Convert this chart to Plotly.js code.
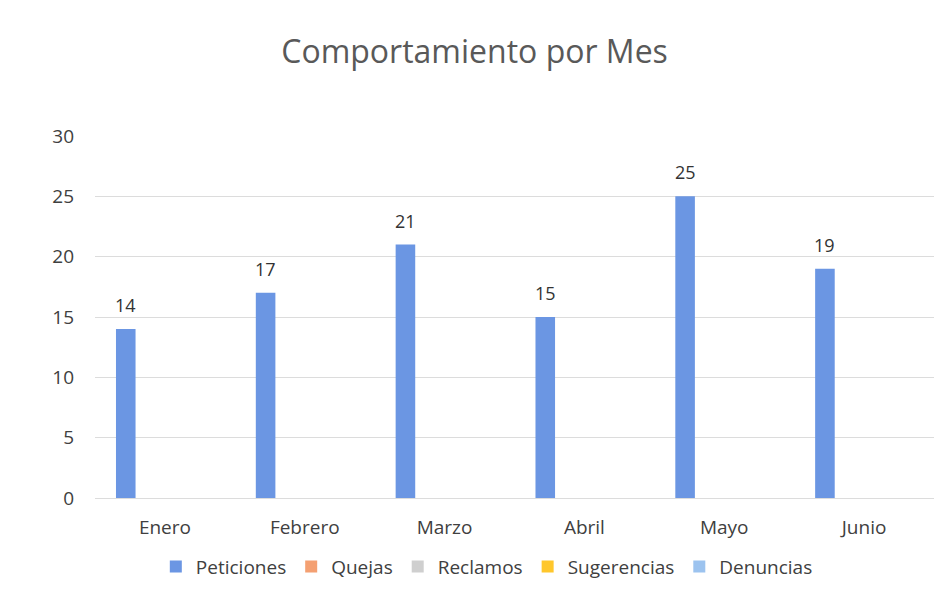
<!DOCTYPE html>
<html>
<head>
<meta charset="utf-8">
<script src="https://cdn.plot.ly/plotly-3.0.1.min.js"></script>
<style>html,body{margin:0;padding:0;background:#fff}#chart{width:936px;height:604px}</style>
</head>
<body>
<div id="chart"></div>
<script>
const months = ["Enero", "Febrero", "Marzo", "Abril", "Mayo", "Junio"];
const peticiones = [14, 17, 21, 15, 25, 19];
const quejas = [0, 0, 0, 0, 0, 0];
const reclamos = [0, 0, 0, 0, 0, 0];
const sugerencias = [0, 0, 0, 0, 0, 0];
const denuncias = [0, 0, 0, 0, 0, 0];
const seriesNames = ["Peticiones", "Quejas", "Reclamos", "Sugerencias", "Denuncias"];
const seriesColors = ["#6b96e3", "#f4a072", "#cfcfcf", "#ffc72c", "#9cc3ef"];
const seriesData = [peticiones, quejas, reclamos, sugerencias, denuncias];

const bargap = 0.3;
const nSeries = seriesData.length;
const barW = (1 - bargap) / nSeries;
const firstOffset = -(1 - bargap) / 2 + barW / 2;

const traces = seriesData.map((vals, i) => ({
  type: "bar",
  name: seriesNames[i],
  x: months,
  y: vals,
  marker: {color: seriesColors[i]},
  hoverinfo: "x+y+name"
}));

const annotations = peticiones.map((v, i) => ({
  x: i + firstOffset, y: v, xref: "x", yref: "y",
  text: String(v), showarrow: false, yanchor: "bottom", yshift: 10,
  font: {family: "Open Sans, sans-serif", size: 18, color: "#333333"}
}));

const layout = {
  width: 936, height: 604,
  margin: {l: 95, r: 2, t: 136, b: 106},
  paper_bgcolor: "#ffffff", plot_bgcolor: "#ffffff",
  barmode: "group", bargap: bargap, bargroupgap: 0,
  title: {text: "Comportamiento por Mes", x: 0.507, xanchor: "center", y: 0.914, yanchor: "middle",
    font: {family: "Open Sans, sans-serif", size: 32, color: "#595959"}},
  font: {family: "Open Sans, sans-serif", color: "#404040"},
  xaxis: {tickfont: {size: 19, color: "#404040"}, showline: false, ticks: "", showgrid: false,
    ticklabelstandoff: 16},
  yaxis: {range: [0, 30], dtick: 5, tickfont: {size: 19, color: "#404040"}, gridcolor: "#dcdcdc",
    zeroline: true, zerolinecolor: "#dcdcdc", showline: false, ticks: "", ticklabelstandoff: 20},
  annotations: annotations,
  showlegend: true,
  legend: {orientation: "h", x: 0.467, xanchor: "center", y: -0.137, yanchor: "top",
    font: {size: 19, color: "#404040"}, traceorder: "normal", itemwidth: 30}
};

Plotly.newPlot("chart", traces, layout, {displayModeBar: false, staticPlot: true});
</script>
</body>
</html>
